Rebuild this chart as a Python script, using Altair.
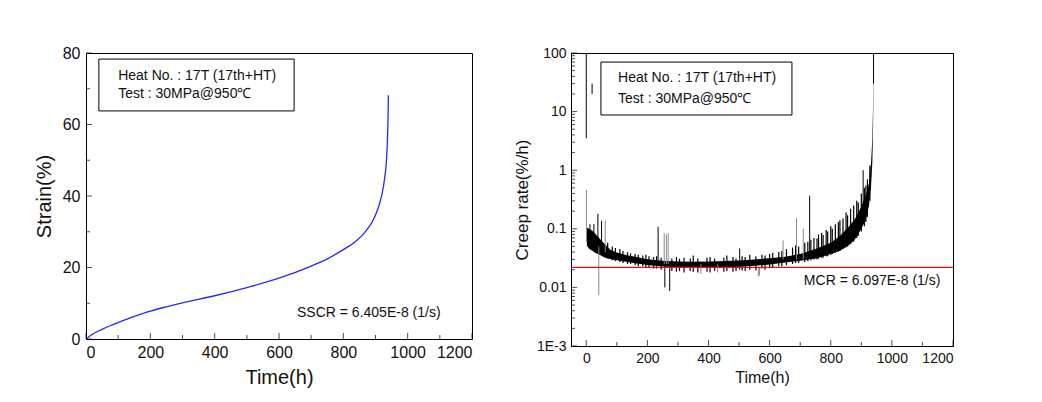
import altair as alt
import pandas as pd

FONT = "Liberation Sans"

# ---------- Left panel: strain curve ----------
strain_time = [0, 10, 25, 50, 75, 100, 150, 200, 250, 300, 400, 500, 600, 700, 750, 800, 840,
               870, 890, 905, 915, 925, 930, 934, 937, 939, 940]
strain_val = [0, 0.7, 1.6, 2.7, 3.7, 4.6, 6.3, 7.8, 9.0, 10.1, 12.1, 14.4, 17.0, 20.4, 22.4,
              25.0, 27.4, 30.2, 32.8, 35.8, 38.6, 42.8, 46.1, 49.8, 55.4, 62.0, 68.2]

# ---------- Right panel: creep rate solid band (upper / lower envelope) ----------
rate_time = [2, 10, 20, 30, 45, 60, 80, 100, 130, 160, 200, 250, 300, 350, 400, 450, 500, 550,
             600, 650, 700, 750, 800, 830, 860, 880, 900, 915, 925, 932, 936, 938, 939, 940]
rate_hi = [0.1057, 0.0989, 0.0927, 0.0813, 0.0667, 0.0548, 0.0433, 0.0394, 0.0356, 0.0333,
           0.0303, 0.0284, 0.0277, 0.0273, 0.0277, 0.0281, 0.0288, 0.0300, 0.0315, 0.0335,
           0.0370, 0.0450, 0.0580, 0.0750, 0.110, 0.150, 0.240, 0.380, 0.600, 1.37, 3.43,
           9.8, 24.5, 100]
rate_lo = [0.0513, 0.0450, 0.0421, 0.0385, 0.0356, 0.0324, 0.0303, 0.0292, 0.0273, 0.0259,
           0.0240, 0.0228, 0.0219, 0.0216, 0.0216, 0.0219, 0.0225, 0.0233, 0.0246, 0.0266,
           0.0284, 0.0312, 0.0370, 0.0421, 0.0527, 0.0667, 0.0989, 0.1466, 0.248, 0.545,
           1.37, 3.9, 9.8, 36.4]

# noise fuzz around the band: time, low, high
fuzz_time = [70, 85, 95, 110, 120, 135, 145, 160, 170, 185, 195, 205, 220, 230, 245, 280, 295,
             305, 320, 340, 350, 365, 395, 405, 420, 450, 460, 480, 490, 510, 520, 535, 555,
             575, 585, 600, 610, 630, 640, 655, 675, 685, 695, 715, 725, 735, 745, 755, 760,
             770, 775, 785, 790, 800, 805, 815, 825, 830, 840, 850, 855, 865, 875, 885, 890,
             900, 910, 915, 920, 928]
fuzz_hi = [0.058, 0.05, 0.047, 0.045, 0.042, 0.04, 0.038, 0.037, 0.036, 0.035, 0.036, 0.034,
           0.033, 0.034, 0.032, 0.031, 0.033, 0.031, 0.032, 0.031, 0.035, 0.031, 0.032, 0.033,
           0.031, 0.032, 0.035, 0.033, 0.031, 0.034, 0.033, 0.036, 0.034, 0.036, 0.035, 0.037,
           0.039, 0.04, 0.042, 0.045, 0.048, 0.052, 0.05, 0.058, 0.06, 0.065, 0.07, 0.068,
           0.08, 0.085, 0.078, 0.095, 0.09, 0.11, 0.1, 0.12, 0.13, 0.14, 0.15, 0.19, 0.17,
           0.22, 0.25, 0.3, 0.28, 0.4, 0.5, 0.55, 0.7, 1.2]
fuzz_lo = [0.031, 0.029, 0.028, 0.027, 0.026, 0.025, 0.025, 0.024, 0.023, 0.023, 0.022, 0.022,
           0.021, 0.021, 0.02, 0.019, 0.0185, 0.019, 0.018, 0.019, 0.0185, 0.018, 0.0185, 0.018,
           0.019, 0.0185, 0.019, 0.0185, 0.019, 0.0195, 0.019, 0.02, 0.0195, 0.021, 0.02,
           0.022, 0.0215, 0.023, 0.023, 0.024, 0.025, 0.026, 0.026, 0.027, 0.028, 0.029, 0.03,
           0.03, 0.031, 0.032, 0.032, 0.034, 0.034, 0.036, 0.037, 0.039, 0.041, 0.042, 0.045,
           0.048, 0.05, 0.055, 0.06, 0.07, 0.075, 0.09, 0.11, 0.13, 0.16, 0.3]

# distinct spikes: time, low, high, colour
spike_time = [0, 0.5, 19, 12, 25, 38, 41, 50, 62, 235, 255, 257, 262, 268, 273, 375, 430,
              502, 563, 567, 644, 688, 710, 731, 906, 940]
spike_lo = [3.5, 0.06, 20, 0.06, 0.05, 0.05, 0.0074, 0.05, 0.04, 0.025, 0.025, 0.0100, 0.025,
            0.025, 0.0087, 0.017, 0.018, 0.02, 0.0155, 0.016, 0.03, 0.03, 0.03, 0.035, 0.2, 30]
spike_hi = [100, 0.46, 30, 0.12, 0.12, 0.18, 0.05, 0.137, 0.14, 0.108, 0.085, 0.025, 0.08,
            0.085, 0.025, 0.025, 0.025, 0.046, 0.022, 0.022, 0.063, 0.151, 0.1, 0.368, 1.0, 100]
spike_col = ["k", "g", "k", "k", "k", "k", "g", "k", "g", "k", "g", "k", "g", "g", "k", "g",
             "g", "k", "g", "g", "g", "g", "g", "k", "k", "k"]

MCR = 0.0219

# tick positions
left_x_major = [0, 200, 400, 600, 800, 1000, 1200]
left_x_minor = [100, 300, 500, 700, 900, 1100]
left_y_major = [0, 20, 40, 60, 80]
left_y_minor = [10, 30, 50, 70]
right_x_major = [0, 200, 400, 600, 800, 1000, 1200]
right_x_minor = [100, 300, 500, 700, 900, 1100]
right_y_major = [0.001, 0.01, 0.1, 1, 10, 100]
right_y_minor = [m * d for d in [0.001, 0.01, 0.1, 1, 10] for m in range(2, 10)]

# ---------- common axis definitions ----------
LW, LH = 386, 286
RW, RH = 382, 293

lx_scale = alt.Scale(domain=[0, 1200], nice=False, zero=False)
ly_scale = alt.Scale(domain=[0, 80], nice=False, zero=False)
lx_axis = alt.Axis(title="Time(h)", values=left_x_major, labelFontSize=16, titleFontSize=20,
                   labelPadding=5, titlePadding=7, format="d")
ly_axis = alt.Axis(title="Strain(%)", values=left_y_major, labelFontSize=16, titleFontSize=20,
                   labelPadding=6, titlePadding=8, format="d")

rx_scale = alt.Scale(domain=[-50, 1200], nice=False, zero=False)
ry_scale = alt.Scale(type="log", domain=[0.001, 100], nice=False)
rx_axis = alt.Axis(title="Time(h)", values=right_x_major, labelFontSize=14, titleFontSize=16,
                   labelPadding=5, titlePadding=4, format="d")
ry_axis = alt.Axis(title="Creep rate(%/h)", values=right_y_major, labelFontSize=14,
                   titleFontSize=17, labelPadding=5, titlePadding=5,
                   labelExpr="datum.value < 0.002 ? '1E-3' : format(datum.value, '~g')")


def LX(f="t"):
    return alt.X(f"{f}:Q", scale=lx_scale, axis=lx_axis)


def LY(f="v"):
    return alt.Y(f"{f}:Q", scale=ly_scale, axis=ly_axis)


def RX(f="t"):
    return alt.X(f"{f}:Q", scale=rx_scale, axis=rx_axis)


def RY(f="v"):
    return alt.Y(f"{f}:Q", scale=ry_scale, axis=ry_axis)


def xticks(major, minor, X, H):
    a = alt.Chart(pd.DataFrame({"t": major})).mark_tick(
        orient="vertical", thickness=1, size=6).encode(
        x=X("t"), y=alt.value(H - 3), color=alt.value("black"))
    b = alt.Chart(pd.DataFrame({"t": minor})).mark_tick(
        orient="vertical", thickness=1, size=4).encode(
        x=X("t"), y=alt.value(H - 2), color=alt.value("black"))
    return [a, b]


def yticks(major, minor, Y):
    a = alt.Chart(pd.DataFrame({"v": major})).mark_tick(
        orient="horizontal", thickness=1, size=6).encode(
        y=Y("v"), x=alt.value(3), color=alt.value("black"))
    b = alt.Chart(pd.DataFrame({"v": minor})).mark_tick(
        orient="horizontal", thickness=1, size=4).encode(
        y=Y("v"), x=alt.value(2), color=alt.value("black"))
    return [a, b]


# ---------- left panel ----------
strain_df = pd.DataFrame({"t": strain_time, "v": strain_val})
left_line = alt.Chart(strain_df).mark_line(strokeWidth=1.3, interpolate="monotone").encode(
    x=LX(), y=LY(), color=alt.value("#2a2ae6"))

lbox = alt.Chart(pd.DataFrame({"t": [40], "t2": [647], "v": [78.3], "v2": [63.8]})).mark_rect(
    fill="white", stroke="black", strokeWidth=1).encode(x=LX(), x2="t2:Q", y=LY(), y2="v2:Q")
ltext = alt.Chart(pd.DataFrame({"t": [100, 100], "v": [73.6, 68.4],
                                "s": ["Heat No. : 17T (17th+HT)", "Test : 30MPa@950\u2103"]})
                  ).mark_text(align="left", baseline="middle", font=FONT, fontSize=14,
                              color="#111").encode(x=LX(), y=LY(), text="s:N")
lsscr = alt.Chart(pd.DataFrame({"t": [656], "v": [7.2], "s": ["SSCR = 6.405E-8 (1/s)"]})
                  ).mark_text(align="left", baseline="middle", font=FONT, fontSize=14,
                              color="#111").encode(x=LX(), y=LY(), text="s:N")

left = alt.layer(left_line, lbox, ltext, lsscr,
                 *xticks(left_x_major, left_x_minor, LX, LH),
                 *yticks(left_y_major, left_y_minor, LY)).properties(width=LW, height=LH)

# ---------- right panel ----------
band_df = pd.DataFrame({"t": rate_time, "v": rate_hi, "v2": rate_lo})
band = alt.Chart(band_df).mark_area(opacity=1, clip=True).encode(
    x=RX(), y=RY(), y2="v2:Q", color=alt.value("black"))

fuzz_df = pd.DataFrame({"t": fuzz_time, "v": fuzz_hi, "v2": fuzz_lo})
fuzz = alt.Chart(fuzz_df).mark_rule(strokeWidth=1.2, clip=True).encode(
    x=RX(), y=RY(), y2="v2:Q", color=alt.value("black"))

spk_df = pd.DataFrame({"t": spike_time, "v": spike_hi, "v2": spike_lo, "c": spike_col})
spikes = alt.Chart(spk_df).mark_rule(strokeWidth=1, clip=True).encode(
    x=RX(), y=RY(), y2="v2:Q",
    color=alt.Color("c:N", scale=alt.Scale(domain=["k", "g"], range=["#000000", "#8a8a8a"]),
                    legend=None))

mcr_line = alt.Chart(pd.DataFrame({"v": [MCR]})).mark_rule(strokeWidth=1.2).encode(
    y=RY(), x=alt.value(0), x2=alt.value(RW), color=alt.value("#e01010"))

rbox = alt.Chart(pd.DataFrame({"t": [48], "t2": [673], "v": [70], "v2": [8.75]})).mark_rect(
    fill="white", stroke="black", strokeWidth=1).encode(x=RX(), x2="t2:Q", y=RY(), y2="v2:Q")
rtext = alt.Chart(pd.DataFrame({"t": [104, 104], "v": [37.4, 16.4],
                                "s": ["Heat No. : 17T (17th+HT)", "Test : 30MPa@950\u2103"]})
                  ).mark_text(align="left", baseline="middle", font=FONT, fontSize=14,
                              color="#111").encode(x=RX(), y=RY(), text="s:N")
rmcr = alt.Chart(pd.DataFrame({"t": [712], "v": [0.0129], "s": ["MCR = 6.097E-8 (1/s)"]})
                 ).mark_text(align="left", baseline="middle", font=FONT, fontSize=14,
                             color="#111").encode(x=RX(), y=RY(), text="s:N")

right = alt.layer(band, fuzz, spikes, mcr_line, rbox, rtext, rmcr,
                  *xticks(right_x_major, right_x_minor, RX, RH),
                  *yticks(right_y_major, right_y_minor, RY)).properties(width=RW, height=RH)

chart = alt.hconcat(left, right, spacing=39).properties(
    padding={"left": 25, "top": 36, "right": 5, "bottom": 5}
).configure_view(stroke="black", strokeWidth=1).configure_axis(
    grid=False, ticks=False, domain=False, labelFont=FONT, titleFont=FONT,
    labelColor="#111", titleColor="#111", titleFontWeight="normal"
)

chart.save("out.html", embed_options={"renderer": "svg", "actions": False})
